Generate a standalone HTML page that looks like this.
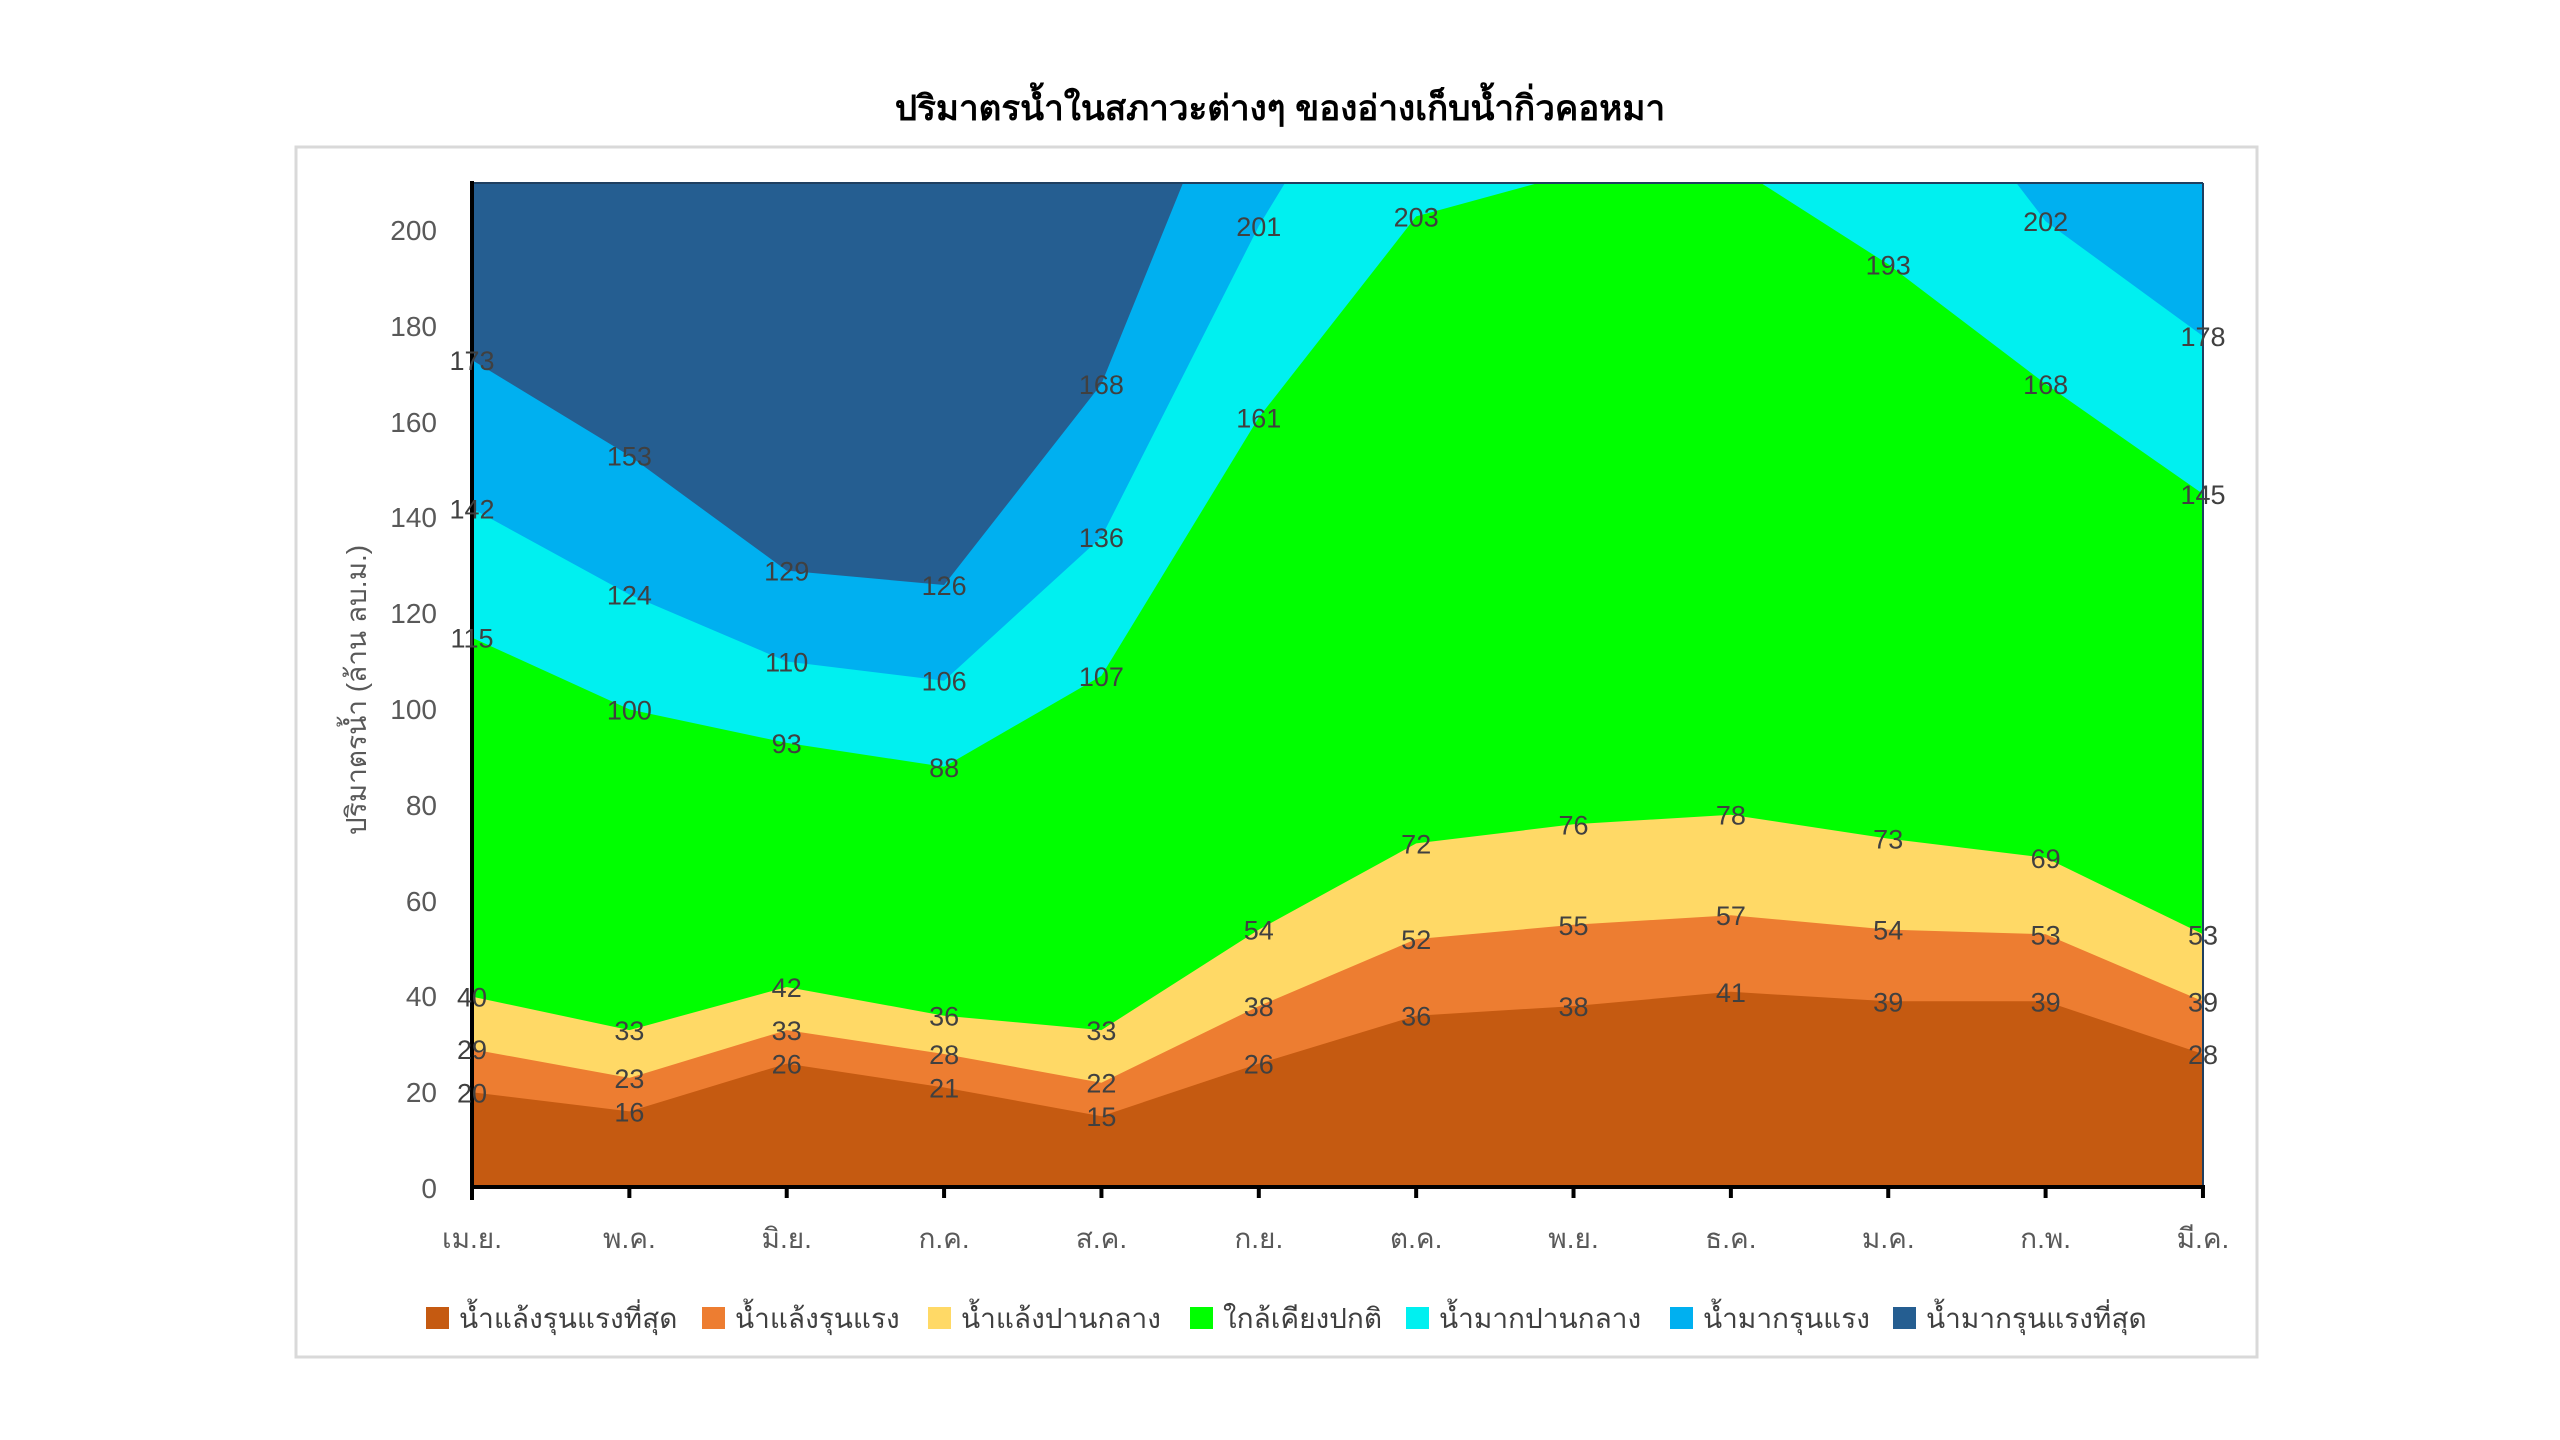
<!DOCTYPE html>
<html><head><meta charset="utf-8">
<style>
html,body{margin:0;padding:0;background:#fff;}
svg{display:block;}
text{font-family:"Liberation Sans","Noto Sans CJK SC","WenQuanYi Zen Hei",sans-serif;}
</style></head>
<body>
<svg id="s" width="2560" height="1440" viewBox="0 0 2560 1440" xmlns="http://www.w3.org/2000/svg">
<rect x="0" y="0" width="2560" height="1440" fill="#fff"/>
<rect x="296" y="147" width="1961" height="1210" fill="#fff" stroke="#d9d9d9" stroke-width="3"/>
<text x="1280" y="120" text-anchor="middle" font-size="35" font-weight="bold" fill="#000">ปริมาตรน้ำในสภาวะต่างๆ ของอ่างเก็บน้ำกิ่วคอหมา</text>
<defs><clipPath id="c"><rect x="472" y="183" width="1731" height="1005"/></clipPath></defs>
<g id="areas" clip-path="url(#c)"></g>
<line x1="472" y1="183" x2="2203" y2="183" stroke="#1f3f60" stroke-width="2"/>
<line x1="2203" y1="183" x2="2203" y2="1188" stroke="#1f3f60" stroke-width="2"/>
<line x1="472" y1="181" x2="472" y2="1200" stroke="#000" stroke-width="4"/>
<line x1="470" y1="1187" x2="2205" y2="1187" stroke="#000" stroke-width="4"/>
<g id="ticks"></g>
<g id="labels" font-size="27" fill="#404040" text-anchor="middle"></g>
<g font-size="28" fill="#595959" text-anchor="end">
<text x="437" y="1198">0</text><text x="437" y="1102">20</text><text x="437" y="1006">40</text><text x="437" y="911">60</text><text x="437" y="815">80</text><text x="437" y="719">100</text><text x="437" y="623">120</text><text x="437" y="527">140</text><text x="437" y="432">160</text><text x="437" y="336">180</text><text x="437" y="240">200</text>
</g>
<text transform="translate(366,690) rotate(-90)" text-anchor="middle" font-size="28" fill="#595959">ปริมาตรน้ำ (ล้าน ลบ.ม.)</text>
<g id="months" font-size="28" fill="#595959" text-anchor="middle"></g>
<g id="legend" font-size="28" fill="#404040"></g>
</svg>
<script>
var NS="http://www.w3.org/2000/svg";
function X(i){return 472+157.36*i;}
function Y(v){return 1188-4.786*v;}
function el(t,a,p,txt){var e=document.createElementNS(NS,t);for(var k in a)e.setAttribute(k,a[k]);if(txt!=null)e.textContent=txt;p.appendChild(e);return e;}
var S=[
[20,16,26,21,15,26,36,38,41,39,39,28],
[29,23,33,28,22,38,52,55,57,54,53,39],
[40,33,42,36,33,54,72,76,78,73,69,53],
[115,100,93,88,107,161,203,212,214,193,168,145],
[142,124,110,106,136,201,255,290,290,245,202,178],
[173,153,129,126,168,249,320,330,330,320,300,290],
[400,400,400,400,400,400,400,400,400,400,400,400]];
var C=["#C55A11","#ED7D31","#FFD966","#00FF00","#00F0F0","#00B0F0","#255E91"];
var g=document.getElementById("areas");
for(var s=S.length-1;s>=0;s--){
 var d="M"+X(0)+","+Y(0);
 for(var i=0;i<12;i++)d+=" L"+X(i).toFixed(1)+","+Y(S[s][i]).toFixed(1);
 d+=" L"+X(11)+","+Y(0)+" Z";
 el("path",{d:d,fill:C[s]},g);
}
var lg=document.getElementById("labels");
for(var s=0;s<6;s++)for(var i=0;i<12;i++){var v=S[s][i];if(v<=210)el("text",{x:X(i).toFixed(1),y:(Y(v)+10).toFixed(1)},lg,String(v));}
var tk=document.getElementById("ticks");
for(var i=0;i<12;i++)el("line",{x1:X(i),y1:1187,x2:X(i),y2:1198,stroke:"#000","stroke-width":4},tk);
var M=["เม.ย.","พ.ค.","มิ.ย.","ก.ค.","ส.ค.","ก.ย.","ต.ค.","พ.ย.","ธ.ค.","ม.ค.","ก.พ.","มี.ค."];
var mg=document.getElementById("months");
for(var i=0;i<12;i++)el("text",{x:X(i),y:1248},mg,M[i]);
var L=["น้ำแล้งรุนแรงที่สุด","น้ำแล้งรุนแรง","น้ำแล้งปานกลาง","ใกล้เคียงปกติ","น้ำมากปานกลาง","น้ำมากรุนแรง","น้ำมากรุนแรงที่สุด"];
var LX=[426,702,928,1190,1406,1670,1893];
var lgd=document.getElementById("legend");
for(var i=0;i<7;i++){el("rect",{x:LX[i],y:1307,width:23,height:22,fill:C[i]},lgd);el("text",{x:LX[i]+33,y:1328},lgd,L[i]);}
</script>
</body></html>
